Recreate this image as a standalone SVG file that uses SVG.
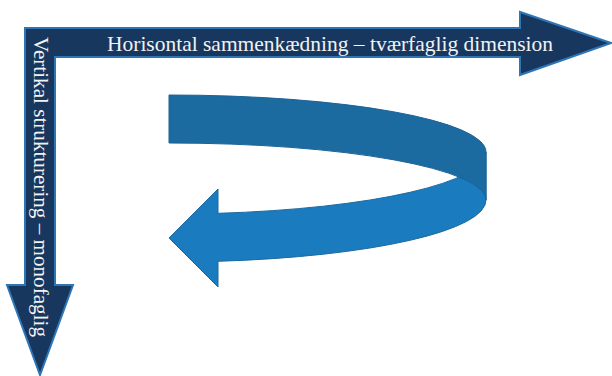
<svg xmlns="http://www.w3.org/2000/svg" width="612" height="376" viewBox="0 0 612 376">
<style>
.frame{fill:#17375e;stroke:#2e75b6;stroke-width:2;stroke-linejoin:miter}
.lbl{font-family:"Liberation Serif","DejaVu Serif",serif;font-size:21px;fill:#f2f2f2}
.front{fill:#1a7bbf;stroke:#1d6aa0;stroke-width:1}
.back{fill:#1b6ba1;stroke:#1d6297;stroke-width:1}
</style>
<rect width="612" height="376" fill="#ffffff"/>
<g id="axes">
<path class="frame" d="M25,28 L520,28 L520,12 L611,43 L520,75 L520,57 L55,57 L55,285 L73,285 L40,375 L7,285 L25,285 Z"/>
<text class="lbl" x="107" y="51" textLength="446" lengthAdjust="spacingAndGlyphs">Horisontal sammenkædning – tværfaglig dimension</text>
<text class="lbl" transform="translate(34,37) rotate(90)" x="0" y="0" textLength="300" lengthAdjust="spacingAndGlyphs">Vertikal strukturering – monofaglig</text>
</g>
<g id="uturn">
<path class="front" d="M486,152 A317,62 0 0 1 218,213.3 L218,189 L169,238 L218,287 L218,261.3 A317,62 0 0 0 486,200 Z"/>
<path class="back" d="M169,95 A317,57 0 0 1 486,152 L486,200 A317,57 0 0 0 169,143 Z"/>
</g>
</svg>
